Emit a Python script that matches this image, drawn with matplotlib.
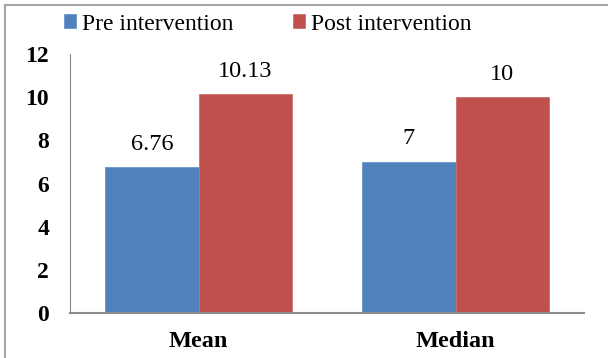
import numpy as np
import matplotlib.pyplot as plt
from matplotlib.lines import Line2D

# données
categories = ["Mean", "Median"]
pre_values = [6.76, 7]
post_values = [10.13, 10]
pre_labels = ["6.76", "7"]
post_labels = ["10.13", "10"]
series_names = ["Pre intervention", "Post intervention"]

plt.rcParams['font.family'] = ['Liberation Serif', 'DejaVu Serif']

W, H = 608, 358
fig = plt.figure(figsize=(W / 100, H / 100), dpi=100)
ax = fig.add_axes([70 / W, (H - 313) / H, (584 - 70) / W, (313 - 54) / H])

x = np.arange(len(categories))
width = 0.363
b1 = ax.bar(x - width / 2, pre_values, width, color='#4F81BD', edgecolor='#6A95CA',
            linewidth=0.6, label=series_names[0])
b2 = ax.bar(x + width / 2, post_values, width, color='#C0504D', edgecolor='#CE6E6B',
            linewidth=0.6, label=series_names[1])

for bars, labels in ((b1, pre_labels), (b2, post_labels)):
    for rect, lab in zip(bars, labels):
        ax.annotate(lab, (rect.get_x() + rect.get_width() / 2, rect.get_height()),
                    xytext=(0, 9), textcoords='offset points',
                    ha='center', va='bottom', fontsize=17.5)

ax.set_xlim(-0.5, 1.5)
ax.set_ylim(0, 12)
ax.set_yticks(range(0, 13, 2))
ax.set_xticks(x)
ax.set_xticklabels(categories, fontsize=17.5, fontweight='bold')
ax.tick_params(axis='y', length=0, pad=15, labelsize=17)
ax.tick_params(axis='x', length=0, pad=13)
for t in ax.get_yticklabels():
    t.set_fontweight('bold')

for side in ('top', 'right'):
    ax.spines[side].set_visible(False)
ax.spines['left'].set_color('#8C8C8C')
ax.spines['bottom'].set_color('#8C8C8C')
ax.spines['bottom'].set_linewidth(1.5)

fig.legend(loc='center left', bbox_to_anchor=(64 / W, 1 - 24 / H), ncol=2,
           frameon=False, fontsize=17, handlelength=0.5, handleheight=0.5,
           handletextpad=0.25, columnspacing=2.55, borderpad=0, borderaxespad=0)

# cadre de la figure (haut et gauche)
fig.add_artist(Line2D([4.5 / W, 1], [1 - 4.5 / H, 1 - 4.5 / H], color='#A6A6A6', lw=1.5))
fig.add_artist(Line2D([4.5 / W, 4.5 / W], [0, 1 - 4.5 / H], color='#A6A6A6', lw=1.5))

fig.savefig("out.png", dpi=100)
